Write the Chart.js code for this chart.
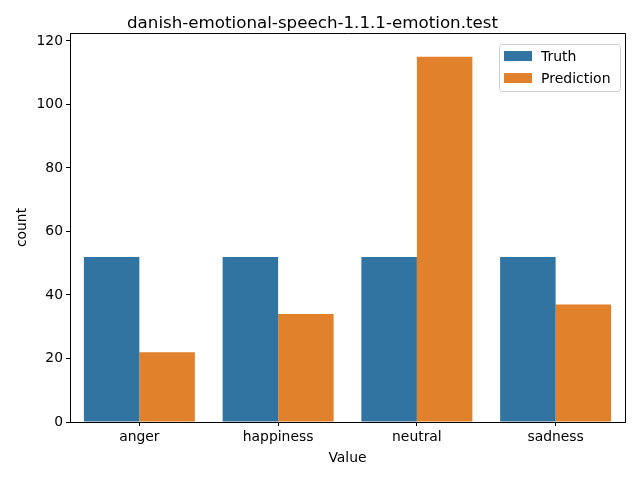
<!DOCTYPE html>
<html>
<head>
<meta charset="utf-8">
<script src="https://cdn.jsdelivr.net/npm/chart.js@4"></script>
<style>
  html, body { margin: 0; padding: 0; background: #fff; }
  #chart { display: block; }
</style>
</head>
<body>
<canvas id="chart" width="640" height="480"></canvas>
<script>
const categories = ['anger', 'happiness', 'neutral', 'sadness'];
const truthCounts = [52, 52, 52, 52];
const predictionCounts = [22, 34, 115, 37];
const yTicks = [0, 20, 40, 60, 80, 100, 120];

const FONT = "'DejaVu Sans', sans-serif";

/* frame + legend box, matplotlib style */
const framePlugin = {
    id: 'frame',
    afterDraw(chart){
        const ctx = chart.ctx;
        const a = chart.chartArea;
        ctx.save();
        ctx.strokeStyle = '#000';
        ctx.lineWidth = 1;
        ctx.beginPath();
        ctx.moveTo(a.left, a.top + 0.5);
        ctx.lineTo(a.right + 0.5, a.top + 0.5);
        ctx.lineTo(a.right + 0.5, a.bottom);
        ctx.stroke();

        // legend
        const x = a.right - 126, y = a.top + 11, w = 121, h = 47;
        ctx.fillStyle = 'rgba(255,255,255,0.8)';
        ctx.strokeStyle = '#cccccc';
        ctx.beginPath();
        ctx.roundRect(x + 0.5, y + 0.5, w, h, 3);
        ctx.fill();
        ctx.stroke();
        ctx.font = '14px ' + FONT;
        ctx.textBaseline = 'middle';
        chart.data.datasets.forEach((ds, i) => {
            const ry = y + 12 + i * 22;
            ctx.fillStyle = ds.backgroundColor;
            ctx.fillRect(x + 5, ry - 5, 28, 10);
            ctx.fillStyle = '#000';
            ctx.fillText(ds.label, x + 42, ry + 1);
        });
        ctx.restore();
    }
};

const ctx = document.getElementById('chart').getContext('2d');
new Chart(ctx, {
    type: 'bar',
    data: {
        labels: categories,
        datasets: [
            { label: 'Truth', data: truthCounts, backgroundColor: '#3274a1', borderWidth: 0 },
            { label: 'Prediction', data: predictionCounts, backgroundColor: '#e1812c', borderWidth: 0 }
        ]
    },
    options: {
        responsive: false,
        animation: false,
        devicePixelRatio: 1,
        categoryPercentage: 0.8,
        barPercentage: 1.0,
        layout: { padding: { left: 0, right: 15, top: 0, bottom: 0 } },
        plugins: {
            legend: { display: false },
            tooltip: { enabled: false },
            title: {
                display: true,
                text: 'danish-emotional-speech-1.1.1-emotion.test',
                color: '#000',
                font: { family: FONT, size: 16.7, weight: 'normal' },
                padding: { top: 14, bottom: -1 }
            }
        },
        scales: {
            x: {
                afterFit(scale){ scale.height = 58; },
                grid: { display: true, drawOnChartArea: false, drawTicks: true, tickLength: 4, color: '#000', offset: false },
                border: { display: true, color: '#000', width: 1 },
                ticks: { color: '#000', font: { family: FONT, size: 13.9 }, padding: 3, maxRotation: 0 },
                title: {
                    display: true, text: 'Value', color: '#000',
                    font: { family: FONT, size: 13.9 },
                    padding: { top: 0, bottom: 13 }
                }
            },
            y: {
                min: 0,
                max: 122.5,
                afterFit(scale){ scale.width = 70; },
                afterBuildTicks(scale){ scale.ticks = yTicks.map(v => ({ value: v })); },
                grid: { display: true, drawOnChartArea: false, drawTicks: true, tickLength: 4, color: '#000' },
                border: { display: true, color: '#000', width: 1 },
                ticks: { color: '#000', font: { family: FONT, size: 13.9 }, padding: 3 },
                title: {
                    display: true, text: 'count', color: '#000',
                    font: { family: FONT, size: 13.9 },
                    padding: { top: 14, bottom: 0 }
                }
            }
        }
    },
    plugins: [framePlugin]
});
</script>
</body>
</html>
